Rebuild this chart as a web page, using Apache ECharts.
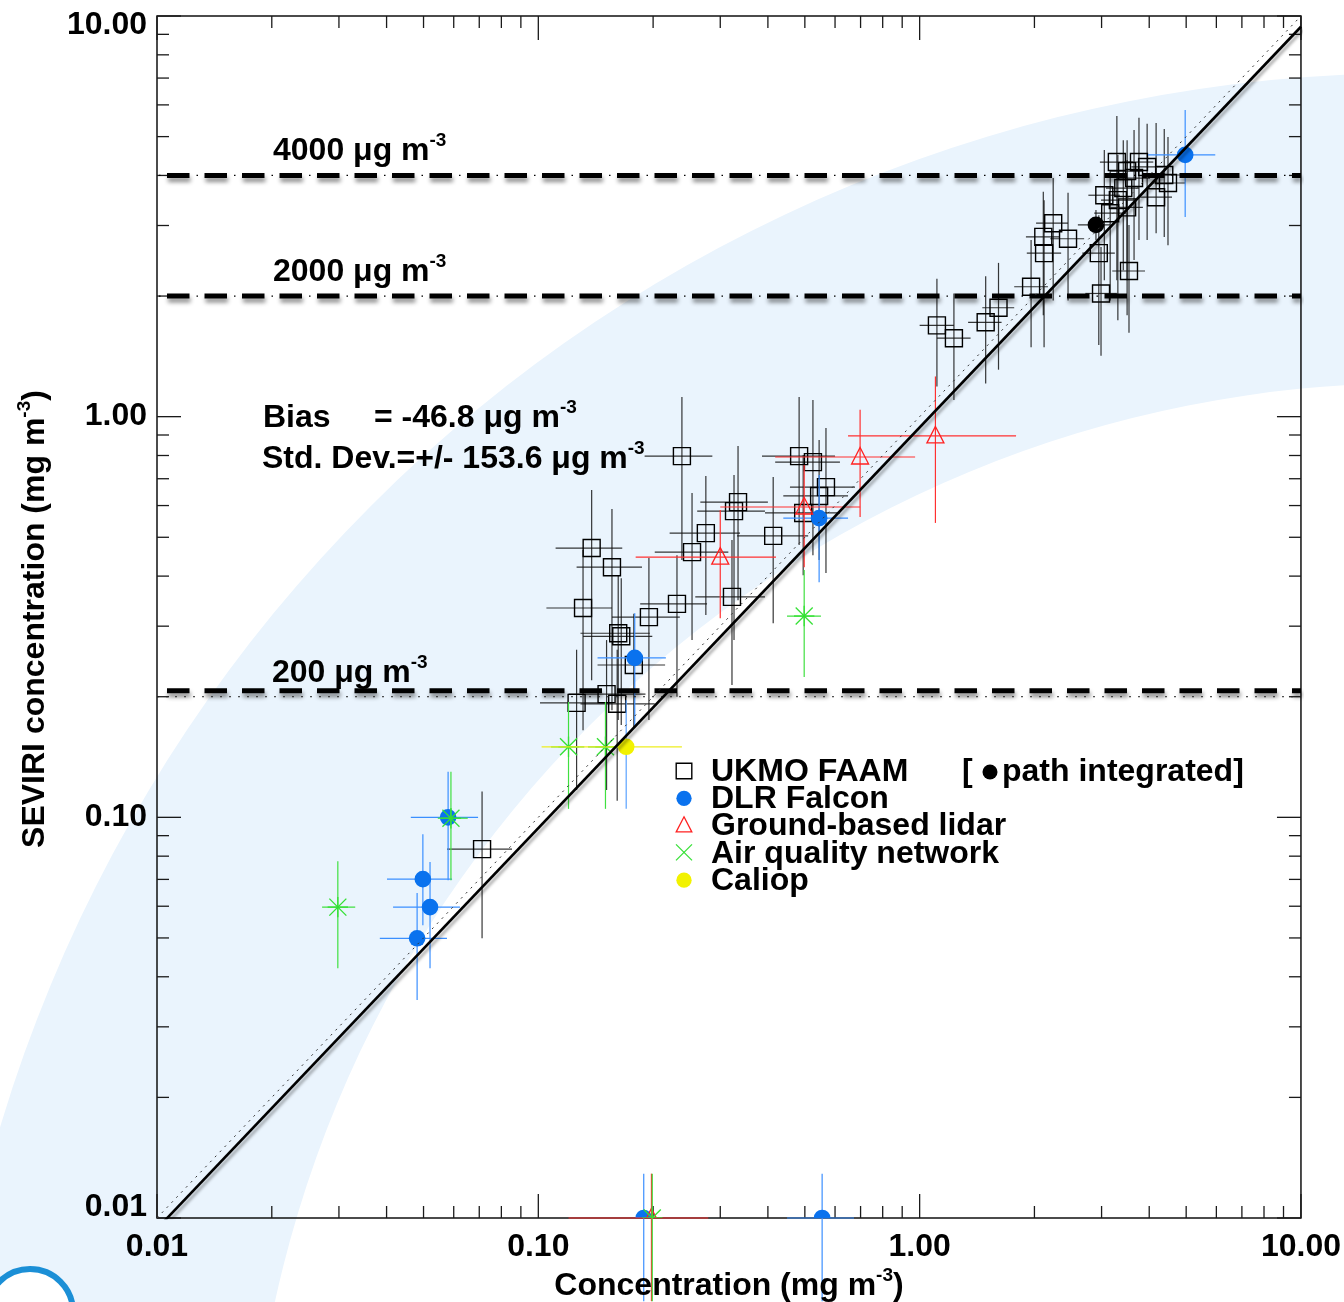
<!DOCTYPE html>
<html>
<head>
<meta charset="utf-8">
<title>SEVIRI ash concentration vs in-situ observations</title>
<script src="https://cdn.jsdelivr.net/npm/echarts@6/dist/echarts.min.js"></script>
<style>
  html, body { margin: 0; padding: 0; background: #fff; }
  #chart { width: 1344px; height: 1302px; }
</style>
</head>
<body>
<div id="chart"></div>
<script>
// ---- Axes (mg m-3, log10 on both axes) ----
const axisMin = 0.01;
const axisMax = 10;
const tickLabels = ['0.01', '0.10', '1.00', '10.00'];
const majorTicks = [0.01, 0.1, 1, 10];
const minorTicks = [0.02, 0.03, 0.04, 0.05, 0.06, 0.07, 0.08, 0.09,
                    0.2, 0.3, 0.4, 0.5, 0.6, 0.7, 0.8, 0.9,
                    2, 3, 4, 5, 6, 7, 8, 9];

// ---- Observations: [obs, seviri, obsLow, obsHigh, seviriLow, seviriHigh] ----
const ukmoFaam = [
  [0.238, 0.797, 0.190, 0.286, 0.439, 1.12],
  [0.483, 0.797, 0.386, 0.600, 0.478, 1.12],
  [0.525, 0.770, 0.418, 0.618, 0.451, 1.10],
  [0.568, 0.667, 0.457, 0.677, 0.407, 0.937],
  [0.545, 0.634, 0.439, 0.649, 0.439, 0.874],
  [0.334, 0.612, 0.266, 0.400, 0.348, 0.845],
  [0.326, 0.581, 0.261, 0.393, 0.277, 0.715],
  [0.275, 0.512, 0.221, 0.338, 0.320, 0.711],
  [0.253, 0.459, 0.202, 0.315, 0.277, 0.645],
  [0.413, 0.504, 0.332, 0.510, 0.305, 0.707],
  [0.138, 0.470, 0.111, 0.166, 0.220, 0.656],
  [0.156, 0.421, 0.126, 0.187, 0.185, 0.588],
  [0.131, 0.333, 0.105, 0.156, 0.165, 0.465],
  [0.231, 0.341, 0.185, 0.277, 0.200, 0.451],
  [0.195, 0.316, 0.156, 0.235, 0.175, 0.444],
  [0.322, 0.355, 0.258, 0.393, 0.214, 0.492],
  [0.162, 0.288, 0.129, 0.196, 0.175, 0.402],
  [0.165, 0.283, 0.131, 0.199, 0.170, 0.395],
  [0.178, 0.240, 0.143, 0.215, 0.168, 0.322],
  [0.126, 0.193, 0.101, 0.156, 0.117, 0.262],
  [0.151, 0.203, 0.120, 0.191, 0.117, 0.277],
  [0.161, 0.192, 0.129, 0.202, 0.110, 0.262],
  [0.495, 0.575, 0.393, 0.618, 0.402, 0.802],
  [0.0712, 0.0833, 0.0576, 0.0853, 0.0499, 0.116],
  [3.29, 4.32, 2.97, 3.63, 2.19, 5.63],
  [3.76, 4.32, 3.40, 4.10, 2.76, 5.57],
  [3.95, 4.20, 3.59, 4.35, 2.76, 5.38],
  [3.50, 4.10, 3.16, 3.85, 2.19, 4.90],
  [3.65, 3.94, 3.29, 4.02, 2.46, 5.19],
  [4.38, 4.01, 3.97, 4.82, 2.81, 5.22],
  [4.48, 3.83, 4.07, 4.97, 2.68, 4.99],
  [3.05, 3.57, 2.77, 3.35, 2.19, 4.63],
  [3.42, 3.72, 3.08, 3.76, 2.32, 4.90],
  [3.31, 3.47, 2.99, 3.65, 1.74, 4.50],
  [3.50, 3.33, 3.16, 3.85, 1.79, 4.37],
  [4.17, 3.53, 3.79, 4.59, 2.87, 5.41],
  [3.16, 3.22, 2.87, 3.48, 1.95, 4.13],
  [2.24, 3.04, 2.02, 2.45, 1.95, 3.94],
  [2.11, 2.81, 1.90, 2.33, 1.79, 3.64],
  [2.45, 2.78, 2.20, 2.70, 1.95, 3.62],
  [2.12, 2.56, 1.91, 2.35, 1.49, 3.47],
  [2.95, 2.56, 2.67, 3.25, 1.51, 3.18],
  [3.54, 2.31, 3.20, 3.90, 1.62, 3.01],
  [1.96, 2.11, 1.77, 2.17, 1.49, 2.76],
  [2.99, 2.03, 2.72, 3.29, 1.42, 2.65],
  [1.61, 1.87, 1.46, 1.77, 1.31, 2.42],
  [1.49, 1.72, 1.34, 1.64, 1.21, 2.24],
  [1.11, 1.69, 1.00, 1.23, 1.19, 2.21],
  [1.23, 1.57, 1.11, 1.36, 1.10, 2.03]
];
const pathIntegrated = [
  [2.90, 3.01, 2.60, 3.16, 2.76, 3.28]
];
const dlrFalcon = [
  [4.97, 4.50, 3.97, 5.96, 3.15, 5.83],
  [0.545, 0.558, 0.439, 0.649, 0.386, 0.715],
  [0.179, 0.250, 0.143, 0.216, 0.168, 0.323],
  [0.058, 0.100, 0.0463, 0.0695, 0.0697, 0.130],
  [0.0498, 0.0701, 0.0401, 0.0594, 0.0538, 0.0908],
  [0.0520, 0.0597, 0.0416, 0.0623, 0.0420, 0.0774],
  [0.0481, 0.0499, 0.0384, 0.0576, 0.0350, 0.0647],
  [0.189, 0.01, 0.189, 0.189, 0.0062, 0.0129],
  [0.555, 0.01, 0.449, 0.673, 0.0062, 0.0129]
];
const groundLidar = [
  [1.10, 0.895, 0.649, 1.79, 0.543, 1.26],
  [0.698, 0.793, 0.418, 0.973, 0.562, 1.04],
  [0.498, 0.595, 0.300, 0.698, 0.421, 0.757],
  [0.300, 0.446, 0.180, 0.420, 0.314, 0.585],
  [0.198, 0.01, 0.120, 0.279, 0.0062, 0.0129]
];
const airQuality = [
  [0.498, 0.318, 0.449, 0.551, 0.224, 0.414],
  [0.120, 0.150, 0.108, 0.132, 0.105, 0.194],
  [0.150, 0.150, 0.135, 0.164, 0.105, 0.194],
  [0.0590, 0.0995, 0.0545, 0.0653, 0.0697, 0.130],
  [0.0298, 0.0597, 0.0271, 0.0331, 0.0420, 0.0777],
  [0.199, 0.01, 0.199, 0.199, 0.0062, 0.0129]
];
const caliop = [
  [0.170, 0.150, 0.102, 0.238, 0.105, 0.196]
];

// ---- Reference lines ----
const limitBars = [4, 2, 0.207];     // heavy dashed threshold lines
const limitGuides = [4, 2, 0.2];     // thin guides at 4000, 2000, 200 ug m-3
const oneToOne = [[0.01, 0.01], [10, 10]];
const fitLine = [[0.01, 0.0094], [10, 9.4]];

// ---- Styling ----
const F = '"Liberation Sans", Arial, Helvetica, sans-serif';
const FS = 32;
const rich = {
  t: { fontSize: FS, fontWeight: 'bold', fontFamily: F, lineHeight: 36, verticalAlign: 'bottom', fill: '#000' },
  s: { fontSize: 19, fontWeight: 'bold', fontFamily: F, lineHeight: 20, verticalAlign: 'top', fill: '#000' }
};

function drawMarker(shape, x, y, color, h) {
  h = h || 8.5;
  if (shape === 'square') {
    return { type: 'rect', shape: { x: x - h, y: y - h, width: 2 * h, height: 2 * h },
             style: { fill: 'none', stroke: color, lineWidth: 1.4 } };
  }
  if (shape === 'circle') {
    return { type: 'circle', shape: { cx: x, cy: y, r: h * 0.98 }, style: { fill: color } };
  }
  if (shape === 'triangle') {
    return { type: 'polygon', shape: { points: [[x, y - h - 1], [x + h, y + h - 1.5], [x - h, y + h - 1.5]] },
             style: { fill: 'none', stroke: color, lineWidth: 1.3 } };
  }
  // asterisk: diagonal cross plus upright cross
  const st = { stroke: color, lineWidth: 1.3 };
  return { type: 'group', children: [
    { type: 'line', shape: { x1: x - h, y1: y - h, x2: x + h, y2: y + h }, style: st },
    { type: 'line', shape: { x1: x - h, y1: y + h, x2: x + h, y2: y - h }, style: st },
    { type: 'line', shape: { x1: x - h * 1.2, y1: y, x2: x + h * 1.2, y2: y }, style: st },
    { type: 'line', shape: { x1: x, y1: y - h * 1.2, x2: x, y2: y + h * 1.2 }, style: st }
  ] };
}

function errorBars(name, rows, hColor, vColor) {
  return {
    type: 'custom', name: name + ' error', data: rows, encode: { x: 0, y: 1 },
    clip: false, silent: true,
    renderItem(params, api) {
      const p = api.coord([api.value(0), api.value(1)]);
      const xl = api.coord([api.value(2), api.value(1)]);
      const xh = api.coord([api.value(3), api.value(1)]);
      const yl = api.coord([api.value(0), api.value(4)]);
      const yh = api.coord([api.value(0), api.value(5)]);
      return { type: 'group', children: [
        { type: 'line', shape: { x1: xl[0], y1: p[1], x2: xh[0], y2: p[1] },
          style: { stroke: hColor, lineWidth: 1.2 } },
        { type: 'line', shape: { x1: p[0], y1: yl[1], x2: p[0], y2: yh[1] },
          style: { stroke: vColor || hColor, lineWidth: 1.2 } }
      ] };
    }
  };
}

function markers(name, rows, shape, color) {
  return {
    type: 'custom', name, data: rows, encode: { x: 0, y: 1 },
    clip: true, silent: true,
    renderItem(params, api) {
      const p = api.coord([api.value(0), api.value(1)]);
      return drawMarker(shape, p[0], p[1], color);
    }
  };
}

// Inward ticks on all four sides of the frame
const tickRows = majorTicks.map(v => [v, v, 1]).concat(minorTicks.map(v => [v, v, 0]));
const tickSeries = {
  type: 'custom', name: 'ticks', data: tickRows, encode: { x: 0, y: 1 },
  clip: false, silent: true,
  renderItem(params, api) {
    const v = api.value(0);
    const len = api.value(2) ? 24 : 12;
    const b = api.coord([v, axisMin]);
    const t = api.coord([v, axisMax]);
    const l = api.coord([axisMin, v]);
    const r = api.coord([axisMax, v]);
    const st = { stroke: '#1a1a1a', lineWidth: 1.3 };
    return { type: 'group', children: [
      { type: 'line', shape: { x1: b[0], y1: b[1], x2: b[0], y2: b[1] - len }, style: st },
      { type: 'line', shape: { x1: t[0], y1: t[1], x2: t[0], y2: t[1] + len }, style: st },
      { type: 'line', shape: { x1: l[0], y1: l[1], x2: l[0] + len, y2: l[1] }, style: st },
      { type: 'line', shape: { x1: r[0], y1: r[1], x2: r[0] - len, y2: r[1] }, style: st }
    ] };
  }
};

const lineSeries = [];
limitBars.forEach(v => lineSeries.push({
  type: 'line', data: [[axisMin, v], [axisMax, v]], symbol: 'none', silent: true,
  lineStyle: { color: '#000', width: 5, type: [22.5, 15], dashOffset: 27.5,
               shadowColor: 'rgba(0,0,0,0.45)', shadowBlur: 4, shadowOffsetX: 1, shadowOffsetY: 4 }
}));
limitGuides.forEach((v, i) => lineSeries.push({
  type: 'line', data: [[axisMin, v], [axisMax, v]], symbol: 'none', silent: true,
  lineStyle: i < 2
    ? { color: '#000', width: 1.3, type: [1.5, 36], dashOffset: 35.5 }
    : { color: '#222', width: 1, type: [2, 7] }
}));
lineSeries.push({
  type: 'line', data: oneToOne, symbol: 'none', silent: true,
  lineStyle: { color: '#333', width: 1, type: [2, 5] }
});
lineSeries.push({
  type: 'line', data: fitLine, symbol: 'none', silent: true,
  lineStyle: { color: '#000', width: 2.6, shadowColor: 'rgba(0,0,0,0.35)', shadowBlur: 3,
               shadowOffsetX: 2, shadowOffsetY: 3 }
});

function txt(x, y, text, align, rotation) {
  return { type: 'text', x, y, rotation: rotation || 0, z: 20, silent: true,
           style: { text, rich, align: align || 'left', verticalAlign: 'middle', fill: '#000',
                    font: 'bold ' + FS + 'px ' + F } };
}

const legendRows = [
  ['UKMO FAAM', 'square', '#000'],
  ['DLR Falcon', 'circle', '#0a72ee'],
  ['Ground-based lidar', 'triangle', '#ff2020'],
  ['Air quality network', 'asterisk-x', '#33e033'],
  ['Caliop', 'circle', '#f2f200']
];
const legendGraphics = [];
legendRows.forEach((row, i) => {
  const y = 770 + i * 27.3;
  let m;
  if (row[1] === 'asterisk-x') {
    const st = { stroke: row[2], lineWidth: 1.3 };
    m = { type: 'group', children: [
      { type: 'line', shape: { x1: 676, y1: y - 7.5, x2: 692, y2: y + 8.5 }, style: st },
      { type: 'line', shape: { x1: 676, y1: y + 8.5, x2: 692, y2: y - 7.5 }, style: st }
    ] };
  } else {
    m = drawMarker(row[1], 684, y + 1, row[2], 7.8);
  }
  m.z = 20; m.silent = true;
  legendGraphics.push(m);
  legendGraphics.push(txt(711, y, '{t|' + row[0] + '}'));
});
legendGraphics.push(txt(962, 770, '{t|[}'));
legendGraphics.push({ type: 'circle', shape: { cx: 990, cy: 772, r: 7.5 }, style: { fill: '#000' }, z: 20, silent: true });
legendGraphics.push(txt(1002, 770, '{t|path integrated]}'));

const chart = echarts.init(document.getElementById('chart'), null, { renderer: 'canvas' });

const axisCommon = {
  type: 'log', logBase: 10, min: axisMin, max: axisMax,
  axisLine: { show: false }, axisTick: { show: false },
  splitLine: { show: false }, minorTick: { show: false }, minorSplitLine: { show: false }
};

chart.setOption({
  animation: false,
  backgroundColor: '#ffffff',
  grid: { left: 157, top: 16, right: 43, bottom: 84, show: true,
          borderColor: '#111', borderWidth: 1.5, backgroundColor: 'transparent' },
  xAxis: Object.assign({}, axisCommon, {
    axisLabel: { show: true, margin: 13, color: '#000', fontSize: FS, fontWeight: 'bold', fontFamily: F,
                 showMinLabel: true, showMaxLabel: true,
                 formatter: (v, i) => tickLabels[i] }
  }),
  yAxis: Object.assign({}, axisCommon, {
    axisLabel: { show: true, margin: 10, color: '#000', fontSize: FS, fontWeight: 'bold', fontFamily: F,
                 showMinLabel: true, showMaxLabel: true,
                 formatter: (v, i) => i === 0 ? '{lo|' + tickLabels[i] + '}'
                   : (i === tickLabels.length - 1 ? '{hi|' + tickLabels[i] + '}' : tickLabels[i]),
                 rich: {
                   lo: { fontSize: FS, fontWeight: 'bold', fontFamily: F, color: '#000', padding: [0, 0, 22, 0] },
                   hi: { fontSize: FS, fontWeight: 'bold', fontFamily: F, color: '#000', padding: [18, 0, 0, 0] }
                 } }
  }),
  graphic: [
    // light blue arc band behind the whole figure
    { type: 'ring', shape: { cx: 1416, cy: 1551, r: 1478, r0: 1168 },
      style: { fill: '#eaf4fd' }, z: -10, silent: true },
    { type: 'circle', shape: { cx: 30, cy: 1312, r: 43 },
      style: { fill: '#ffffff', stroke: '#1b8fd6', lineWidth: 6 }, z: -9, silent: true },
    txt(273, 149, '{t|4000 μg m}{s|-3}'),
    txt(273, 270, '{t|2000 μg m}{s|-3}'),
    txt(272, 671, '{t|200 μg m}{s|-3}'),
    txt(263, 416, '{t|Bias}'),
    txt(374, 416, '{t|= -46.8 μg m}{s|-3}'),
    txt(262, 457, '{t|Std. Dev.=+/- 153.6 μg m}{s|-3}'),
    txt(729, 1284, '{t|Concentration (mg m}{s|-3}{t|)}', 'center'),
    txt(33, 619, '{t|SEVIRI concentration (mg m}{s|-3}{t|)}', 'center', Math.PI / 2)
  ].concat(legendGraphics),
  series: lineSeries.concat([
    tickSeries,
    errorBars('UKMO FAAM', ukmoFaam, 'rgba(20,20,20,0.85)'),
    markers('UKMO FAAM', ukmoFaam, 'square', '#000'),
    errorBars('path integrated', pathIntegrated, 'rgba(20,20,20,0.85)'),
    markers('path integrated', pathIntegrated, 'circle', '#000'),
    errorBars('DLR Falcon', dlrFalcon, '#3b8fff'),
    markers('DLR Falcon', dlrFalcon, 'circle', '#0a72ee'),
    errorBars('Ground-based lidar', groundLidar, '#ff3030'),
    markers('Ground-based lidar', groundLidar, 'triangle', '#ff2020'),
    errorBars('Air quality network', airQuality, '#40e040'),
    markers('Air quality network', airQuality, 'asterisk', '#33e033'),
    errorBars('Caliop', caliop, '#eeee20', '#5aa2ff'),
    markers('Caliop', caliop, 'circle', '#f2f200')
  ])
});
</script>
</body>
</html>
